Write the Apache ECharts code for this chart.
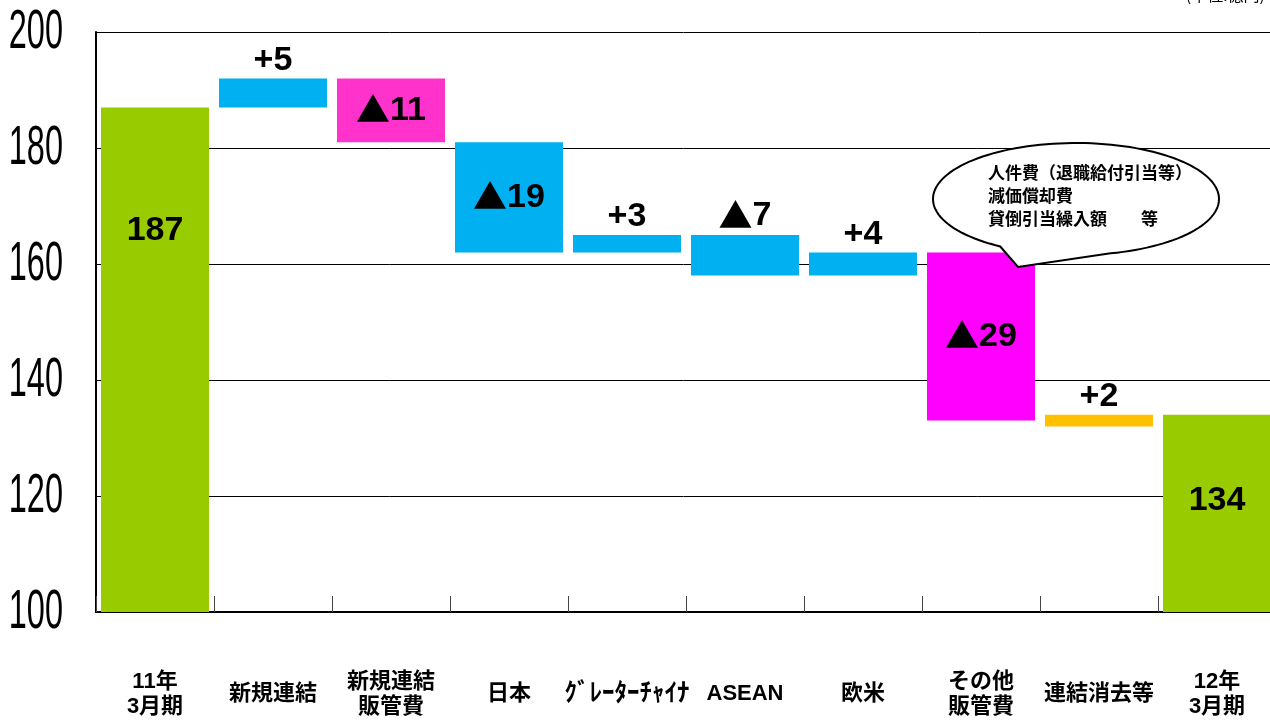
<!DOCTYPE html>
<html>
<head>
<meta charset="utf-8">
<script src="https://cdn.jsdelivr.net/npm/echarts@6/dist/echarts.min.js"></script>
<style>
  html, body { margin: 0; padding: 0; background: #fff; }
  #chart { width: 1270px; height: 720px; }
</style>
</head>
<body>
<div id="chart"></div>
<script>
// 営業利益の増減要因（億円）
const categories = ['11年\n3月期', '新規連結', '新規連結\n販管費', '日本', 'ｸﾞﾚｰﾀｰﾁｬｲﾅ', 'ASEAN', '欧米', 'その他\n販管費', '連結消去等', '12年\n3月期'];
// 期初・期末の実績
const totals = [187, null, null, null, null, null, null, null, null, 134];
// 各要因の増減（マイナスは▲表示）
const changes = [null, 5, -11, -19, 3, -7, 4, -29, 2, null];
// 各要因バーの下端
const floors = [null, 187, 181, 162, 162, 158, 158, 133, 132, null];
// 縦軸の目盛
const yTicks = [100, 120, 140, 160, 180, 200];
const yMin = 100, yMax = 200, yStep = 20;

const GREEN = '#99CC00', CYAN = '#00B0F0', PINK = '#FF33CC', MAGENTA = '#FF00FF', ORANGE = '#FFC000';
const changeColors = [null, CYAN, PINK, CYAN, CYAN, CYAN, CYAN, MAGENTA, ORANGE, null];
const changeLabelPos = [null, 'top', 'inside', 'inside', 'top', 'top', 'top', 'inside', 'top', null];
const totalLabelOffset = [[0, -129], null, null, null, null, null, null, null, null, [0, -13]];

const LATIN = '"Liberation Sans", Arial, sans-serif';
const labelFont = {
  color: '#000', fontWeight: 'bold', fontSize: 34, fontFamily: LATIN,
  rich: {
    tri: { color: '#000', fontSize: 34, fontFamily: '"Noto Sans CJK JP", sans-serif', padding: [0, 0, 2, 0] }
  }
};
const fmtChange = v => (v > 0 ? '+' + v : '{tri|▲}' + (-v));
const BAR_W = 108;

// 吹き出しの輪郭（楕円＋しっぽ）
function bubblePoints(cx, cy, rx, ry, a0, a1, tip) {
  const pts = [];
  const n = 120;
  for (let k = 0; k <= n; k++) {
    const t = a0 + (a1 - a0) * k / n;
    pts.push([cx + rx * Math.cos(t), cy + ry * Math.sin(t)]);
  }
  pts.push(tip);
  return pts;
}
const deg = Math.PI / 180;
const bubble = bubblePoints(1076, 199, 143, 56, 122 * deg, (360 + 76) * deg, [1018, 267]);

const chart = echarts.init(document.getElementById('chart'), null, { renderer: 'canvas' });

const CJK_BOLD = '"Liberation Sans", Arial, "Noto Sans CJK JP", sans-serif';

chart.setOption({
  animation: false,
  backgroundColor: '#fff',
  grid: { left: 96, right: -6, top: 32, bottom: 108, containLabel: false, outerBoundsMode: 'none' },
  xAxis: {
    type: 'category',
    data: categories,
    axisLine: { lineStyle: { color: '#000', width: 2 } },
    axisTick: { show: true, inside: true, length: 16, lineStyle: { color: '#444', width: 1 } },
    axisLabel: {
      interval: 0, margin: 82, verticalAlign: 'middle', lineHeight: 25,
      color: '#000', fontSize: 22, fontWeight: 'bold', fontFamily: CJK_BOLD,
      // 半角カナの項目名はやや大きめに
      formatter: v => (/[\uFF61-\uFF9F]/.test(v) ? '{hw|' + v + '}' : v),
      rich: {
        hw: { fontSize: 25, fontWeight: 'bold', color: '#000', fontFamily: CJK_BOLD }
      }
    }
  },
  yAxis: {
    type: 'value', min: yMin, max: yMax, interval: yStep,
    axisLine: { show: true, lineStyle: { color: '#000', width: 2 } },
    axisTick: { show: false },
    splitLine: { lineStyle: { color: '#000', width: 1 } },
    axisLabel: { show: false }
  },
  series: [
    {
      name: '実績', type: 'bar', barWidth: BAR_W, barGap: '-100%',
      data: totals.map((v, i) => v == null ? '-' : {
        value: v,
        itemStyle: { color: GREEN },
        label: { show: true, position: 'inside', offset: totalLabelOffset[i], ...labelFont }
      }),
      z: 3
    },
    {
      name: '基準', type: 'bar', stack: 'wf', barWidth: BAR_W, barGap: '-100%',
      itemStyle: { color: 'transparent' },
      emphasis: { disabled: true },
      data: floors.map(v => v == null ? '-' : v),
      z: 3
    },
    {
      name: '増減', type: 'bar', stack: 'wf', barWidth: BAR_W, barGap: '-100%',
      data: changes.map((v, i) => v == null ? '-' : {
        value: Math.abs(v),
        itemStyle: { color: changeColors[i] },
        label: {
          show: true, position: changeLabelPos[i], distance: 1,
          formatter: () => fmtChange(v), ...labelFont
        }
      }),
      z: 3
    }
  ]
});

// 縦軸の目盛ラベル（縦長の書体で表示）：位置は軸のスケールから求める
const axisX = chart.convertToPixel({ xAxisIndex: 0 }, 0) - (chart.convertToPixel({ xAxisIndex: 0 }, 1) - chart.convertToPixel({ xAxisIndex: 0 }, 0)) / 2;
const tickTexts = yTicks.map(v => ({
  type: 'text',
  x: axisX - 33,
  y: chart.convertToPixel({ yAxisIndex: 0 }, v) + 1,
  scaleX: 0.58,
  z: 10,
  style: {
    text: String(v), fill: '#000', align: 'right', verticalAlign: 'middle',
    font: '56px "Liberation Sans", Arial, sans-serif'
  }
}));

chart.setOption({
  graphic: tickTexts.concat([
    {
      type: 'text', right: 5, top: -13, z: 10,
      style: {
        text: '(単位:億円)', fill: '#000',
        font: '16px "Noto Sans CJK JP", sans-serif'
      }
    },
    {
      type: 'polygon', z: 20,
      shape: { points: bubble },
      style: { fill: '#fff', stroke: '#000', lineWidth: 2 }
    },
    {
      type: 'text', x: 988, y: 161, z: 21,
      style: {
        text: '人件費（退職給付引当等）\n減価償却費\n貸倒引当繰入額　　等',
        fill: '#000', lineHeight: 23,
        font: 'bold 17px "Noto Sans CJK JP", sans-serif'
      }
    }
  ])
});
</script>
</body>
</html>
